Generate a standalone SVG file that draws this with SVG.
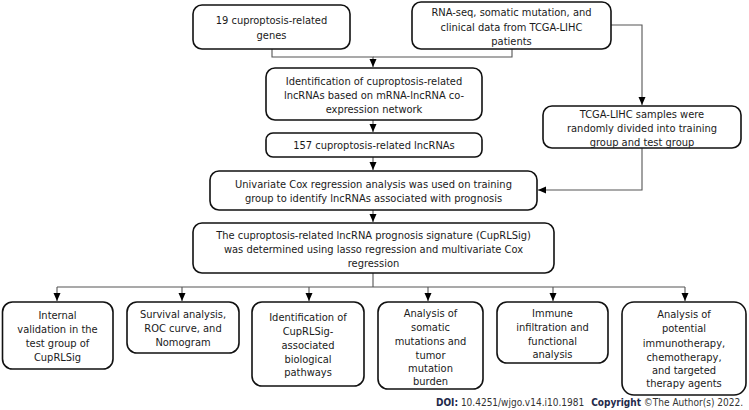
<svg xmlns="http://www.w3.org/2000/svg" width="749" height="410" viewBox="0 0 749 410">
<style>
.box{fill:#fff;stroke:#111;stroke-width:1.6}
.t{font-family:"DejaVu Sans Condensed","Liberation Sans",sans-serif;font-size:11px;fill:#1a1a1a;text-anchor:middle}
.c{fill:none;stroke:#555;stroke-width:1.1}
.ft{font-family:"DejaVu Sans Condensed","Liberation Sans",sans-serif;font-size:10px;fill:#333}
.fb{font-weight:bold;fill:#1f2a4a}
</style>
<defs>
<marker id="ah" markerUnits="userSpaceOnUse" markerWidth="9" markerHeight="8" refX="8" refY="3.5" orient="auto">
<path d="M0,0 L8,3.5 L0,7 z" fill="#000"/>
</marker>
</defs>
<rect width="749" height="410" fill="#fff"/>
<g id="connectors">
<path class="c" d="M272,49 V57 H373 V67" marker-end="url(#ah)"/>
<path class="c" d="M512,49 V57 H373"/>
<path class="c" d="M611,25 H642 V105" marker-end="url(#ah)"/>
<path class="c" d="M373,120 V132" marker-end="url(#ah)"/>
<path class="c" d="M373,157 V170" marker-end="url(#ah)"/>
<path class="c" d="M642,148 V190 H538" marker-end="url(#ah)"/>
<path class="c" d="M373,210 V222" marker-end="url(#ah)"/>
<path class="c" d="M373,273 V287 M57,287 H685"/>
<path class="c" d="M57,287 V301" marker-end="url(#ah)"/>
<path class="c" d="M182,287 V301" marker-end="url(#ah)"/>
<path class="c" d="M309,287 V301" marker-end="url(#ah)"/>
<path class="c" d="M428,287 V301" marker-end="url(#ah)"/>
<path class="c" d="M553,287 V301" marker-end="url(#ah)"/>
<path class="c" d="M685,287 V301" marker-end="url(#ah)"/>
</g>
<g id="genes">
<rect class="box" x="193" y="5" width="157" height="44" rx="9"/>
<text class="t" x="271.5" y="24">19 cuproptosis-related</text>
<text class="t" x="271.5" y="39">genes</text>
</g>
<g id="tcga-data">
<rect class="box" x="412" y="2" width="199" height="47" rx="9"/>
<text class="t" x="511.5" y="16">RNA-seq, somatic mutation, and</text>
<text class="t" x="511.5" y="30.5">clinical data from TCGA-LIHC</text>
<text class="t" x="511.5" y="45">patients</text>
</g>
<g id="identification">
<rect class="box" x="266" y="68" width="216" height="52" rx="9"/>
<text class="t" x="374" y="85">Identification of cuproptosis-related</text>
<text class="t" x="374" y="99">lncRNAs based on mRNA-lncRNA co-</text>
<text class="t" x="374" y="113">expression network</text>
</g>
<g id="split">
<rect class="box" x="543" y="106" width="198" height="42" rx="9"/>
<text class="t" x="642" y="117.5">TCGA-LIHC samples were</text>
<text class="t" x="642" y="132">randomly divided into training</text>
<text class="t" x="642" y="146">group and test group</text>
</g>
<g id="lncrnas">
<rect class="box" x="266" y="133" width="216" height="24" rx="7"/>
<text class="t" x="374" y="149">157 cuproptosis-related lncRNAs</text>
</g>
<g id="univariate">
<rect class="box" x="210" y="171" width="327" height="39" rx="9"/>
<text class="t" x="373.5" y="188">Univariate Cox regression analysis was used on training</text>
<text class="t" x="373.5" y="202">group to identify lncRNAs associated with prognosis</text>
</g>
<g id="signature">
<rect class="box" x="193" y="223" width="361" height="50" rx="9"/>
<text class="t" x="373.5" y="239">The cuproptosis-related lncRNA prognosis signature (CupRLSig)</text>
<text class="t" x="373.5" y="253">was determined using lasso regression and multivariate Cox</text>
<text class="t" x="373.5" y="267">regression</text>
</g>
<g id="validation">
<rect class="box" x="2.5" y="302" width="110.5" height="67" rx="10"/>
<text class="t" x="57.5" y="319">Internal</text>
<text class="t" x="57.5" y="333">validation in the</text>
<text class="t" x="57.5" y="347">test group of</text>
<text class="t" x="57.5" y="361">CupRLSig</text>
</g>
<g id="survival">
<rect class="box" x="127" y="302" width="112" height="51" rx="10"/>
<text class="t" x="183" y="318">Survival analysis,</text>
<text class="t" x="183" y="332">ROC curve, and</text>
<text class="t" x="183" y="346">Nomogram</text>
</g>
<g id="pathways">
<rect class="box" x="252" y="302" width="112" height="84" rx="10"/>
<text class="t" x="308" y="321">Identification of</text>
<text class="t" x="308" y="335">CupRLSig-</text>
<text class="t" x="308" y="349">associated</text>
<text class="t" x="308" y="362.5">biological</text>
<text class="t" x="308" y="376">pathways</text>
</g>
<g id="mutations">
<rect class="box" x="378" y="302" width="105" height="87" rx="10"/>
<text class="t" x="430.5" y="317">Analysis of</text>
<text class="t" x="430.5" y="331">somatic</text>
<text class="t" x="430.5" y="345">mutations and</text>
<text class="t" x="430.5" y="358.5">tumor</text>
<text class="t" x="430.5" y="372">mutation</text>
<text class="t" x="430.5" y="385">burden</text>
</g>
<g id="immune">
<rect class="box" x="497" y="302" width="111" height="61" rx="10"/>
<text class="t" x="552.5" y="317">Immune</text>
<text class="t" x="552.5" y="331">infiltration and</text>
<text class="t" x="552.5" y="344.5">functional</text>
<text class="t" x="552.5" y="358">analysis</text>
</g>
<g id="therapy">
<rect class="box" x="622" y="302" width="124" height="93" rx="12"/>
<text class="t" x="684" y="318">Analysis of</text>
<text class="t" x="684" y="332">potential</text>
<text class="t" x="684" y="347">immunotherapy,</text>
<text class="t" x="684" y="361">chemotherapy,</text>
<text class="t" x="684" y="374">and targeted</text>
<text class="t" x="684" y="387">therapy agents</text>
</g>
<text class="ft" x="743" y="406" text-anchor="end"><tspan class="fb">DOI:</tspan> 10.4251/wjgo.v14.i10.1981<tspan class="fb" dx="7">Copyright</tspan> ©The Author(s) 2022.</text>
</svg>
